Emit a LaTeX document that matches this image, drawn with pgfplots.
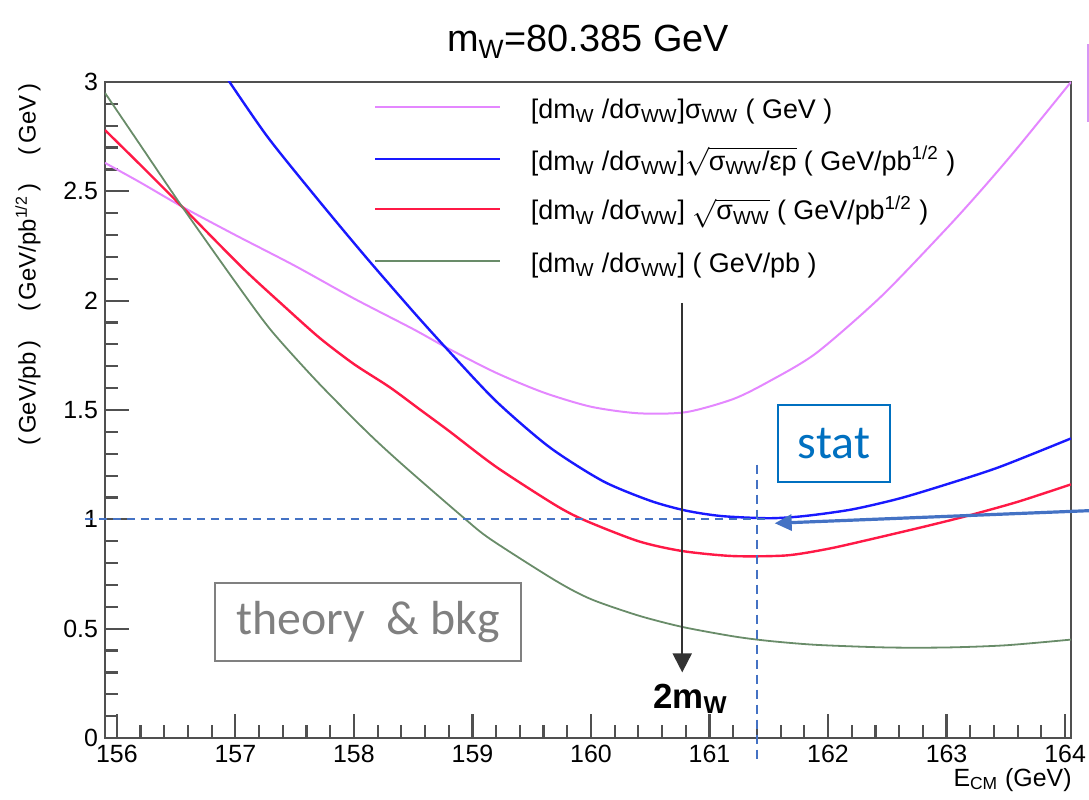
\documentclass[border=0pt]{standalone}
\usepackage{pgfplots}
\pgfplotsset{compat=1.18}
\usepackage{fontspec}
\setmainfont{Liberation Sans}
\newfontfamily\calibri{Carlito}
\usetikzlibrary{arrows.meta}
\definecolor{cPink}{RGB}{228,135,255}
\definecolor{cBlue}{RGB}{25,25,255}
\definecolor{cRed}{RGB}{255,25,70}
\definecolor{cGreen}{RGB}{105,140,105}
\definecolor{ppBlue}{RGB}{68,114,196}
\definecolor{statBlue}{RGB}{0,112,192}
\definecolor{axGray}{RGB}{80,80,80}
\definecolor{boxGray}{RGB}{128,128,128}
\definecolor{boxPink}{RGB}{215,150,245}
\newcommand{\fs}[1]{\fontsize{#1}{#1}\selectfont}
\newcommand{\dmw}{[dm\textsubscript{W} /dσ\textsubscript{WW}]}
\begin{document}
\begin{tikzpicture}
\begin{axis}[
  name=ax,
  scale only axis, width=483bp, height=328bp,
  xmin=155.9, xmax=164.05, ymin=0, ymax=3,
  xtick={156,157,...,164}, ytick={0,0.5,...,3},
  minor x tick num=4, minor y tick num=4,
  xtick pos=bottom, ytick pos=left, tick align=inside,
  major tick length=12bp, minor tick length=6.5bp,
  axis line style={axGray, line width=1.2bp},
  major tick style={axGray, line width=1.1bp},
  minor tick style={axGray, line width=1.1bp},
  /pgf/number format/assume math mode=true,
  tick label style={font=\fs{12.5}},
  clip mode=individual,
]
\addplot[cPink, line width=1bp, smooth, tension=0.45] coordinates {
(155.90,2.63) (156.20,2.54) (156.55,2.43) (157.00,2.30) (157.50,2.16)
(158.00,2.01) (158.50,1.87) (158.80,1.78) (159.20,1.67) (159.60,1.58)
(160.00,1.515) (160.40,1.485) (160.80,1.49) (161.20,1.55) (161.50,1.63)
(161.90,1.76) (162.45,2.02) (163.00,2.33) (163.30,2.51) (163.60,2.70)
(164.05,3.00)};
\addplot[cBlue, line width=1.2bp, smooth, tension=0.45] coordinates {
(156.92,3.025) (157.27,2.75) (157.70,2.46) (158.10,2.20) (158.50,1.95)
(158.80,1.77) (159.20,1.54) (159.65,1.33) (160.10,1.175) (160.50,1.085)
(160.80,1.04) (161.10,1.015) (161.50,1.005) (161.80,1.015) (162.20,1.045)
(162.60,1.095) (163.00,1.16) (163.45,1.24) (164.05,1.37)};
\addplot[cRed, line width=1.2bp, smooth, tension=0.45] coordinates {
(155.90,2.78) (156.20,2.62) (156.55,2.43) (157.06,2.15) (157.40,1.98)
(157.71,1.83) (158.00,1.71) (158.30,1.605) (158.55,1.505) (158.80,1.405)
(159.20,1.24) (159.70,1.065) (159.95,0.995) (160.40,0.90) (160.77,0.855)
(161.20,0.832) (161.65,0.835) (162.00,0.865) (162.33,0.905) (162.80,0.965)
(163.17,1.015) (163.60,1.08) (164.05,1.16)};
\addplot[cGreen, line width=0.9bp, smooth, tension=0.45] coordinates {
(155.90,2.95) (156.20,2.71) (156.55,2.43) (157.00,2.085) (157.30,1.865)
(157.69,1.63) (158.11,1.40) (158.41,1.25) (158.92,1.01) (159.15,0.91)
(159.70,0.72) (160.00,0.635) (160.40,0.56) (160.77,0.508) (161.20,0.465)
(161.50,0.444) (161.90,0.426) (162.50,0.414) (163.00,0.414) (163.50,0.424)
(164.05,0.45)};

% legend (drawn by hand)
\draw[cPink, line width=1.3bp] (axis cs:158.18,2.885) -- (axis cs:159.23,2.885);
\draw[cBlue, line width=1.3bp] (axis cs:158.18,2.647) -- (axis cs:159.23,2.647);
\draw[cRed, line width=1.3bp] (axis cs:158.18,2.419) -- (axis cs:159.23,2.419);
\draw[cGreen, line width=1.3bp] (axis cs:158.18,2.181) -- (axis cs:159.23,2.181);
\node[anchor=base west, inner sep=0, font=\fs{13.5}] at (axis cs:159.49,2.835)
  {\dmw σ\textsubscript{WW} ( GeV )};
\node[anchor=base west, inner sep=0, font=\fs{13.5}] at (axis cs:159.49,2.597)
  {\dmw$\sqrt{\mbox{σ\textsubscript{WW}/εp}}$ ( GeV/pb\textsuperscript{1/2} )};
\node[anchor=base west, inner sep=0, font=\fs{13.5}] at (axis cs:159.49,2.369)
  {\dmw\ $\sqrt{\mbox{σ\textsubscript{WW}}}$ ( GeV/pb\textsuperscript{1/2} )};
\node[anchor=base west, inner sep=0, font=\fs{13.5}] at (axis cs:159.49,2.131)
  {\dmw\ ( GeV/pb )};

% titles
\node[anchor=base, inner sep=0, font=\fs{19}, yshift=15bp] at (rel axis cs:0.5,1)
  {m\textsubscript{W}=80.385 GeV};
\node[xshift=-38.5bp, yshift=-0.5bp, rotate=90, anchor=east, inner sep=0, font=\fs{12}]
  at (rel axis cs:0,1)
  {(\,GeV/pb\,)\hspace{1.2em}(\,GeV/pb\textsuperscript{1/2}\,)\hspace{1.2em}(\,GeV\,)};
\node[anchor=base east, inner sep=0, font=\fs{12.5}, xshift=0.5bp, yshift=-24bp]
  at (rel axis cs:1,0) {E\textsubscript{CM} (GeV)};

% annotations
\draw[ppBlue, line width=1bp, dash pattern=on 4bp off 3bp]
  (axis cs:155.73,1) -- (axis cs:161.5,1);
\draw[ppBlue, line width=0.9bp, dash pattern=on 4.5bp off 3bp]
  (axis cs:161.40,1.25) -- (axis cs:161.40,-0.12);
\draw[ppBlue, line width=1.6bp, -{Triangle[width=8bp,length=8.5bp]}]
  (axis cs:164.45,1.045) -- (axis cs:161.55,0.982);
\draw[black!80, line width=1bp, -{Triangle[width=9.5bp,length=9.5bp]}]
  (axis cs:160.77,1.99) -- (axis cs:160.77,0.30);
\node[anchor=base, inner sep=0, font=\bfseries\fs{17.5}] at (axis cs:160.84,0.137)
  {2m\textsubscript{W}};
\node[draw=boxGray, line width=1bp, minimum width=153bp, minimum height=39bp,
  text=boxGray, font=\calibri\fs{24}, inner sep=0] at (axis cs:158.12,0.53)
  {theory~~\& bkg};
\node[draw=statBlue, line width=1bp, minimum width=56bp, minimum height=38.5bp,
  text=statBlue, font=\calibri\fs{24}, inner sep=0] at (axis cs:162.05,1.347)
  {stat};
\draw[boxPink, line width=1bp] (axis cs:164.40,3.17) -- (axis cs:164.19,3.17)
  -- (axis cs:164.19,2.82) -- (axis cs:164.40,2.82);
\end{axis}
\pgfresetboundingbox
\useasboundingbox ([xshift=-52.5bp,yshift=-31bp]ax.south west)
  rectangle ([xshift=9bp,yshift=41bp]ax.north east);
\end{tikzpicture}
\end{document}
